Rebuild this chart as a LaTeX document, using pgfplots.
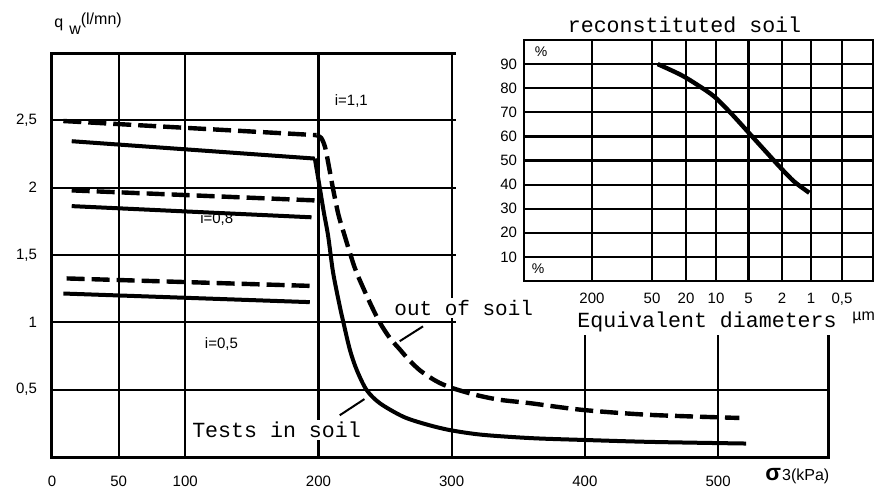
\documentclass[border=0pt]{standalone}
\usepackage{fontspec}
\setmainfont{Liberation Sans}
\newfontfamily\couri{Liberation Mono}
\usepackage{pgfplots}
\usepackage{pgfplotstable}
\pgfplotsset{compat=1.18}

% main chart: q_w (l/mn) vs sigma3 (kPa)
\pgfplotstableread{
x y
14.8 2.345
197.3 2.216
}\solA
\pgfplotstableread{
x y
197.3 2.216
201 2.0
204 1.82
207.3 1.64
211 1.37
216 1.12
218.5 1.01
223.5 0.80
228.6 0.65
236 0.50
246 0.40
263.5 0.30
280 0.245
298.6 0.20
323 0.165
360 0.14
398 0.127
450 0.112
521 0.10
}\insoil
\pgfplotstableread{
x y
8.5 2.495
198.5 2.39
}\dashA
\pgfplotstableread{
x y
198.5 2.39
202 2.37
205 2.30
208 2.15
210.8 2.0
215 1.80
219.8 1.64
223.5 1.52
228.6 1.37
238.6 1.147
246 1.0
253.5 0.885
261 0.80
268 0.72
276 0.645
284 0.59
291 0.55
301 0.51
318.6 0.46
336 0.425
358.6 0.40
398 0.35
448.6 0.313
516 0.29
}\outsoil
\pgfplotstableread{
x y
14.8 1.98
198.5 1.905
}\dashB
\pgfplotstableread{
x y
14.8 1.863
194.8 1.78
}\solB
\pgfplotstableread{
x y
11 1.326
196 1.27
}\dashC
\pgfplotstableread{
x y
8.5 1.214
193.5 1.15
}\solC
% inset: reconstituted soil grading curve
\pgfplotstableread{
x y
133.7 90
157 85.5
173.7 81.3
190.3 76.5
207 69.6
223.7 62
240.3 54.4
257 46.8
270.3 41.2
285.3 36.6
}\grading

\begin{document}
\begin{tikzpicture}
\begin{axis}[
  at={(26pt,15.5pt)}, anchor=south west,
  width=388pt, height=202pt, scale only axis,
  xmin=0, xmax=582.5, ymin=0, ymax=3,
  xtick={0,50,100,200,300,400,500},
  xticklabels={0,50,100,200,300,400,500},
  ytick={0.5,1,1.5,2,2.5},
  yticklabels={{0,5},1,{1,5},2,{2,5}},
  grid=major, major grid style={line width=1.1pt, black},
  major tick length=0pt,
  axis line style={line width=1.5pt, black},
  tick label style={font=\fontsize{7.5}{8}\selectfont},
  xticklabel style={yshift=-6pt},
  yticklabel style={xshift=-4pt},
  clip=false,
]
\addplot[black, line width=2pt] table {\solA};
\addplot[black, line width=2pt, smooth] table {\insoil};
\addplot[black, line width=2.2pt, dash pattern=on 9pt off 3.5pt] table {\dashA};
\addplot[black, line width=2.2pt, smooth, dash pattern=on 9pt off 3.5pt] table {\outsoil};
\addplot[black, line width=2.2pt, dash pattern=on 9pt off 3.5pt] table {\dashB};
\addplot[black, line width=2pt] table {\solB};
\addplot[black, line width=2.2pt, dash pattern=on 9pt off 3.5pt] table {\dashC};
\addplot[black, line width=2pt] table {\solC};
\node[anchor=west, font=\fontsize{7.5}{8}\selectfont] at (axis cs:207,2.64) {i=1,1};
\node[anchor=west, font=\fontsize{7.5}{8}\selectfont] at (axis cs:106,1.77) {i=0,8};
\node[anchor=west, font=\fontsize{7.5}{8}\selectfont] at (axis cs:109.5,0.836) {i=0,5};
\node[anchor=west, fill=white, inner sep=1pt, font=\couri\fontsize{10.8}{11}\selectfont] at (axis cs:103.5,0.20) {Tests in soil};
\draw[black, line width=1pt] (axis cs:216,0.31) -- (axis cs:234.5,0.43);
\draw[black, line width=1pt] (axis cs:261,0.86) -- (axis cs:278.5,0.97);
\end{axis}
\begin{scope}[x=0.5pt, y=0.5pt]
\fill[white] (456,153) rectangle (880,490);
\node[anchor=west, fill=white, inner sep=1pt, font=\couri\fontsize{10.5}{11}\selectfont] at (392,180) {out of soil};
\node[anchor=west, fill=white, inner sep=1pt, font=\couri\fontsize{10.8}{11}\selectfont] at (575,166) {Equivalent diameters};
\node[anchor=west, inner sep=0pt, font=\fontsize{8}{9}\selectfont] at (852,170) {µm};
\node[anchor=center, font=\couri\fontsize{10.8}{11}\selectfont] at (684.5,463) {reconstituted soil};
\node[anchor=west, inner sep=0pt, font=\fontsize{8}{9}\selectfont] at (54,464) {q\hspace{3pt}\raisebox{-3.5pt}{w}\raisebox{1.5pt}{(l/mn)}};
\node[anchor=west, inner sep=0pt] at (765,12) {{\fontsize{11.5}{11}\selectfont\bfseries σ}\hspace{0.5pt}{\fontsize{8}{8}\selectfont 3(kPa)}};
\end{scope}
\begin{axis}[
  at={(262pt,103.5pt)}, anchor=south west,
  width=174.5pt, height=120.5pt, scale only axis,
  xmin=0, xmax=349, ymin=0, ymax=100,
  xtick={68,128,162,192,224.5,258,287,318},
  xticklabels={200,50,20,10,5,2,1,{0,5}},
  ytick={10,20,30,40,50,60,70,80,90},
  yticklabels={10,20,30,40,50,60,70,80,90},
  grid=major, major grid style={line width=1.1pt, black},
  major tick length=0pt,
  axis line style={line width=1.3pt, black},
  tick label style={font=\fontsize{7.5}{8}\selectfont},
  xticklabel style={yshift=-2.5pt},
  clip=false,
]
\addplot[black, line width=2.2pt, smooth] table {\grading};
\node[font=\fontsize{7}{8}\selectfont] at (axis cs:17,95) {\%};
\node[font=\fontsize{7}{8}\selectfont] at (axis cs:14,5) {\%};
\end{axis}
\begin{scope}[x=0.5pt, y=0.5pt]
\pgfresetboundingbox
\useasboundingbox (0,0) rectangle (877,488);
\end{scope}
\end{tikzpicture}
\end{document}
